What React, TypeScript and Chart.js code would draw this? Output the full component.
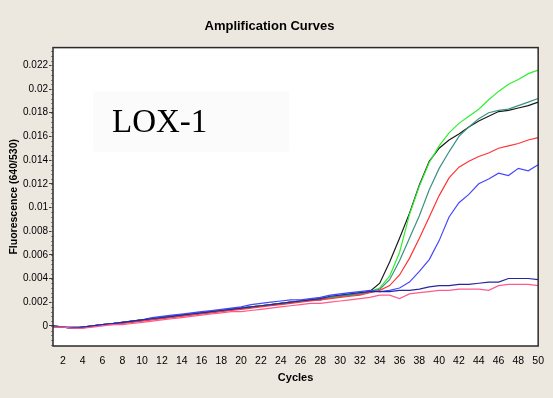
import { useEffect, useRef } from "react";
import { Chart, registerables } from "chart.js";

Chart.register(...registerables);

// PCR cycle numbers
const cycles = Array.from({ length: 50 }, (_, i) => i + 1);

// Fluorescence (640/530) readings per sample, one value per cycle
const blackSample = [
  0.0, -0.0001, -0.0002, -0.0001, 0.0, 0.0001, 0.0002, 0.0003, 0.0004, 0.0005,
  0.0006, 0.0007, 0.0008, 0.0009, 0.001, 0.0011, 0.0012, 0.0013, 0.0014, 0.0015,
  0.0016, 0.0017, 0.0018, 0.0019, 0.002, 0.0021, 0.0022, 0.0022, 0.0024, 0.0025,
  0.0026, 0.0027, 0.0029, 0.0036, 0.0054, 0.0074, 0.0095, 0.0119, 0.0139, 0.015,
  0.0157, 0.0162, 0.0168, 0.0173, 0.0177, 0.0181, 0.0182, 0.0184, 0.0186, 0.0189,
];
const greenSample = [
  0.0, -0.0001, -0.0002, -0.0001, 0.0, 0.0001, 0.0002, 0.0002, 0.0004, 0.0005,
  0.0006, 0.0006, 0.0008, 0.0009, 0.001, 0.0011, 0.0012, 0.0013, 0.0014, 0.0015,
  0.0016, 0.0017, 0.0018, 0.0019, 0.002, 0.0021, 0.0022, 0.0023, 0.0024, 0.0025,
  0.0026, 0.0027, 0.0029, 0.0032, 0.0042, 0.0062, 0.0094, 0.0118, 0.0138, 0.0152,
  0.0163, 0.0171, 0.0177, 0.0183, 0.0191, 0.0198, 0.0204, 0.0208, 0.0213, 0.0216,
];
const tealSample = [
  0.0, -0.0001, -0.0002, -0.0001, 0.0, 0.0001, 0.0002, 0.0003, 0.0004, 0.0005,
  0.0006, 0.0007, 0.0008, 0.0009, 0.001, 0.0011, 0.0012, 0.0013, 0.0014, 0.0015,
  0.0016, 0.0017, 0.0018, 0.0019, 0.002, 0.0021, 0.0022, 0.0023, 0.0024, 0.0025,
  0.0026, 0.0027, 0.0029, 0.0031, 0.0039, 0.0055, 0.0074, 0.0093, 0.0115, 0.0133,
  0.0147, 0.016, 0.0168, 0.0175, 0.018, 0.0182, 0.0183, 0.0186, 0.0189, 0.0192,
];
const redSample = [
  -0.0001, -0.0001, -0.0002, -0.0002, 0.0, 0.0001, 0.0001, 0.0002, 0.0003, 0.0004,
  0.0005, 0.0006, 0.0007, 0.0008, 0.0009, 0.001, 0.0011, 0.0012, 0.0013, 0.0014,
  0.0015, 0.0016, 0.0017, 0.0018, 0.0019, 0.002, 0.0021, 0.0022, 0.0023, 0.0024,
  0.0025, 0.0026, 0.0028, 0.003, 0.0034, 0.0043, 0.0057, 0.0074, 0.0092, 0.011,
  0.0125, 0.0134, 0.0139, 0.0143, 0.0146, 0.015, 0.0152, 0.0154, 0.0157, 0.0159,
];
const blueSample = [
  -0.0001, -0.0001, -0.0002, -0.0001, 0.0, 0.0001, 0.0002, 0.0003, 0.0004, 0.0005,
  0.0007, 0.0008, 0.0009, 0.001, 0.0011, 0.0012, 0.0013, 0.0014, 0.0015, 0.0016,
  0.0018, 0.0019, 0.002, 0.0021, 0.0022, 0.0022, 0.0023, 0.0024, 0.0026, 0.0027,
  0.0028, 0.0029, 0.003, 0.0029, 0.003, 0.0032, 0.0037, 0.0046, 0.0056, 0.0072,
  0.0092, 0.0104, 0.0111, 0.012, 0.0124, 0.0129, 0.0127, 0.0133, 0.0131, 0.0136,
];
const navySample = [
  0.0, -0.0001, -0.0001, -0.0001, 0.0, 0.0001, 0.0002, 0.0003, 0.0004, 0.0005,
  0.0006, 0.0007, 0.0008, 0.0009, 0.001, 0.0011, 0.0012, 0.0013, 0.0014, 0.0015,
  0.0016, 0.0017, 0.0018, 0.0019, 0.002, 0.0021, 0.0022, 0.0023, 0.0025, 0.0026,
  0.0027, 0.0028, 0.0029, 0.0029, 0.0029, 0.003, 0.003, 0.0031, 0.0033, 0.0034,
  0.0034, 0.0035, 0.0035, 0.0036, 0.0037, 0.0037, 0.004, 0.004, 0.004, 0.0039,
];
const pinkSample = [
  -0.0001, -0.0001, -0.0002, -0.0002, -0.0001, 0.0, 0.0001, 0.0001, 0.0002, 0.0003,
  0.0004, 0.0005, 0.0006, 0.0007, 0.0008, 0.0009, 0.001, 0.0011, 0.0012, 0.0012,
  0.0013, 0.0014, 0.0015, 0.0016, 0.0017, 0.0018, 0.0019, 0.0019, 0.002, 0.0021,
  0.0022, 0.0023, 0.0024, 0.0026, 0.0026, 0.0023, 0.0027, 0.0028, 0.0029, 0.003,
  0.003, 0.0031, 0.0031, 0.0031, 0.003, 0.0034, 0.0035, 0.0035, 0.0035, 0.0034,
];

// Axis ticks
const xTickValues = [2, 4, 6, 8, 10, 12, 14, 16, 18, 20, 22, 24, 26, 28, 30, 32, 34, 36, 38, 40, 42, 44, 46, 48, 50];
const yTickValues = [0, 0.002, 0.004, 0.006, 0.008, 0.01, 0.012, 0.014, 0.016, 0.018, 0.02, 0.022];
const yMinorStep = 0.0004;

const samples = [
  { name: "pink", values: pinkSample, color: "#ff5a8c" },
  { name: "navy", values: navySample, color: "#26269e" },
  { name: "blue", values: blueSample, color: "#4646ff" },
  { name: "red", values: redSample, color: "#ff3434" },
  { name: "teal", values: tealSample, color: "#3c9282" },
  { name: "green", values: greenSample, color: "#2ef02e" },
  { name: "black", values: blackSample, color: "#1a1a1a" },
];

const SANS = "'Liberation Sans', Arial, sans-serif";
const PANEL_BG = "#ede8df";

const framePlugin = {
  id: "frame",
  beforeDraw(chart: any) {
    const { ctx, chartArea: a, width, height } = chart;
    ctx.save();
    ctx.fillStyle = PANEL_BG;
    ctx.fillRect(0, 0, width, height);
    ctx.fillStyle = "#ffffff";
    ctx.fillRect(a.left, a.top, a.right - a.left, a.bottom - a.top);
    // faint label box
    ctx.fillStyle = "#fbfbfb";
    ctx.fillRect(a.left + 40, a.top + 44, 196, 60);
    ctx.fillStyle = "#000";
    ctx.font = "33px 'Liberation Serif', 'DejaVu Serif', serif";
    ctx.textBaseline = "alphabetic";
    ctx.textAlign = "left";
    ctx.fillText("LOX-1", a.left + 59, a.top + 84);
    ctx.restore();
  },
  afterDraw(chart: any) {
    const { ctx, chartArea: a, scales } = chart;
    const y = scales.y;
    ctx.save();
    // minor ticks on the value axis
    ctx.strokeStyle = "#8a8a8a";
    ctx.lineWidth = 1;
    ctx.beginPath();
    for (let v = -0.0016; v <= 0.0234; v += yMinorStep) {
      const py = Math.round(y.getPixelForValue(v)) + 0.5;
      ctx.moveTo(a.left - 2, py);
      ctx.lineTo(a.left, py);
    }
    ctx.stroke();
    // plot frame
    ctx.strokeStyle = "#2a2a2a";
    ctx.lineWidth = 1.5;
    ctx.strokeRect(a.left, a.top, a.right - a.left, a.bottom - a.top);
    ctx.restore();
  },
};

export default function App() {
  const ref = useRef<HTMLCanvasElement>(null);

  useEffect(() => {
    const chart = new Chart(ref.current!, {
      type: "line",
      data: {
        datasets: samples.map((s) => ({
          label: s.name,
          data: s.values.map((v, i) => ({ x: cycles[i], y: v })),
          borderColor: s.color,
          borderWidth: 1.2,
          pointRadius: 0,
          tension: 0,
          fill: false,
        })),
      },
      options: {
        responsive: false,
        animation: false,
        devicePixelRatio: 1,
        layout: { padding: { top: 0, right: 14, bottom: 0, left: 0 } },
        plugins: {
          legend: { display: false },
          tooltip: { enabled: false },
          title: {
            display: true,
            text: "Amplification Curves",
            color: "#000",
            font: { family: SANS, size: 13, weight: "bold" },
            padding: { top: 19, bottom: 13 },
          },
        },
        scales: {
          x: {
            type: "linear",
            min: 1,
            max: 50,
            afterBuildTicks: (s: any) => {
              s.ticks = xTickValues.map((v) => ({ value: v }));
            },
            afterFit: (s: any) => {
              s.height = 52;
            },
            grid: { display: false, drawTicks: false },
            border: { display: false },
            ticks: {
              autoSkip: false,
              maxRotation: 0,
              padding: 9,
              color: "#000",
              font: { family: SANS, size: 10.5 },
            },
            title: {
              display: true,
              text: "Cycles",
              color: "#000",
              font: { family: SANS, size: 11, weight: "bold" },
              padding: { top: 0, bottom: 13 },
            },
          },
          y: {
            type: "linear",
            min: -0.0017,
            max: 0.0235,
            afterBuildTicks: (s: any) => {
              s.ticks = yTickValues.map((v) => ({ value: v }));
            },
            afterFit: (s: any) => {
              s.width = 53;
            },
            grid: { drawOnChartArea: false, tickLength: 4, tickColor: "#444" },
            border: { display: false },
            ticks: {
              autoSkip: false,
              padding: 1,
              color: "#000",
              font: { family: SANS, size: 10 },
              callback: (v: any) => String(Number(Number(v).toFixed(3))),
            },
            title: {
              display: true,
              text: "Fluorescence (640/530)",
              color: "#000",
              font: { family: SANS, size: 10.5, weight: "bold" },
              padding: { top: 8, bottom: 0 },
            },
          },
        },
      },
      plugins: [framePlugin],
    });
    return () => chart.destroy();
  }, []);

  return (
    <div style={{ position: "fixed", left: 0, top: 0, width: 553, height: 398, background: PANEL_BG }}>
      <canvas ref={ref} width={553} height={398} style={{ display: "block" }} />
    </div>
  );
}
